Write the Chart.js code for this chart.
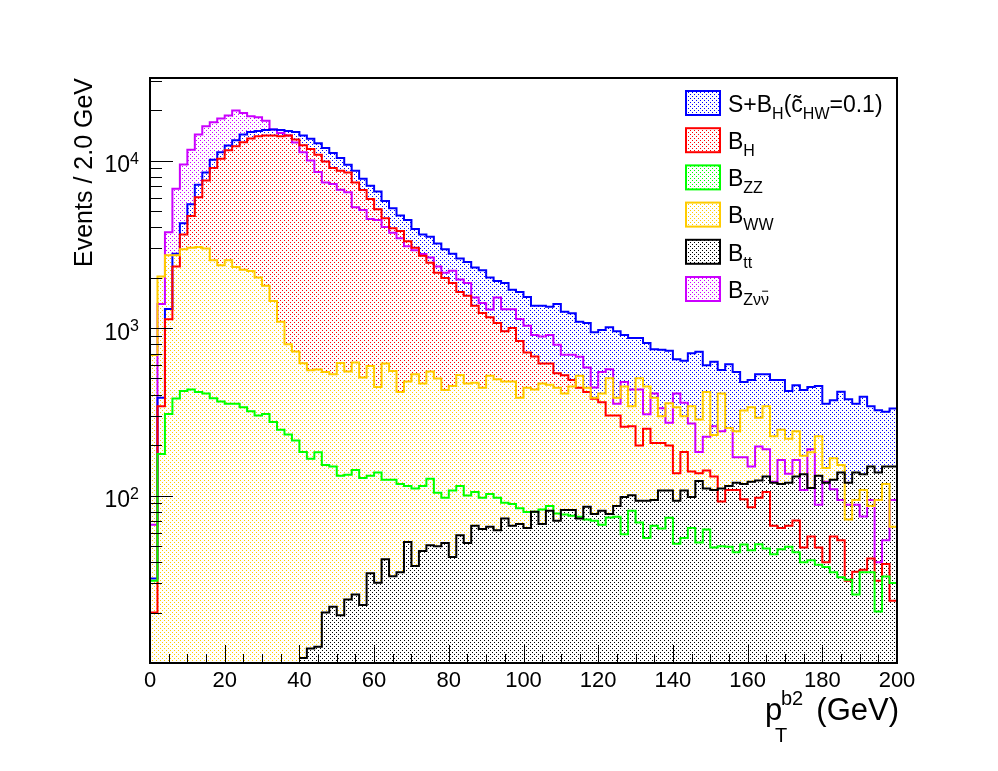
<!DOCTYPE html>
<html>
<head>
<meta charset="utf-8">
<script src="https://cdn.jsdelivr.net/npm/chart.js@4.4.0/dist/chart.umd.min.js"></script>
<style>
  html, body { margin: 0; padding: 0; background: #fff; }
  #wrap { width: 998px; height: 771px; }
</style>
</head>
<body>
<div id="wrap"><canvas id="myChart" width="998" height="771"></canvas></div>
<script>
// histogram binning: 100 bins of 2 GeV
const binWidth = 2.0;
const xRange = [0, 200];
const yRange = [10, 31100];
const xTickValues = [0, 20, 40, 60, 80, 100, 120, 140, 160, 180, 200];
const xTickLabels = ['0', '20', '40', '60', '80', '100', '120', '140', '160', '180', '200'];
const yTickPowers = [2, 3, 4];

// S+B_H (c_HW = 0.1)
const sbH = [
  32, 384, 1300, 2780, 4220, 5480, 7160, 8490, 10100, 11200,
  12300, 13200, 14300, 14800, 15000, 15200, 15300, 15200, 15000, 14800,
  14100, 13500, 12700, 11900, 11100, 10350, 9440, 8690, 7780, 7060,
  6530, 5740, 5190, 4690, 4410, 3900, 3620, 3510, 3200, 2950,
  2780, 2600, 2480, 2300, 2210, 2000, 1910, 1860, 1690, 1640,
  1530, 1360, 1360, 1340, 1390, 1250, 1225, 1090, 1070, 942,
  973, 1010, 955, 908, 871, 871, 813, 748, 741, 731,
  652, 637, 708, 721, 600, 628, 562, 608, 547, 476,
  490, 530, 530, 490, 490, 421, 455, 427, 444, 451,
  353, 371, 417, 375, 353, 389, 341, 323, 316, 331
];
// B_H
const bH = [
  20, 341, 1130, 2330, 3620, 4660, 6040, 7600, 9020, 10260,
  11500, 12170, 12850, 13520, 13970, 14100, 14100, 13970, 14100, 13330,
  12330, 11720, 10840, 9880, 9020, 8700, 8490, 7400, 6680, 5900,
  5120, 4520, 3940, 3800, 3300, 3010, 2700, 2450, 2140, 1990,
  1860, 1640, 1560, 1360, 1230, 1160, 1070, 955, 1000, 836,
  714, 676, 614, 614, 537, 522, 490, 440, 415, 378,
  361, 300, 300, 257, 259, 199, 250, 206, 206, 199,
  136, 182, 139, 136, 141, 130, 92, 108, 108, 95,
  85, 97, 105, 66, 64, 66, 71, 49, 57, 49,
  40, 57, 54, 31, 35, 36, 42, 31, 39, 23.5
];
// B_ZZ
const bZZ = [
  31, 177, 307, 380, 421, 430, 415, 407, 381, 364,
  353, 353, 337, 319, 300, 307, 275, 247, 231, 213,
  182, 166, 181, 152, 149, 131, 133, 142, 127, 131,
  137, 124, 124, 117, 114, 110, 114, 126, 104, 97,
  107, 114, 100, 105, 97, 102, 97, 90.6, 89, 84,
  79.6, 80, 82.6, 86.5, 78, 77, 75.6, 74.6, 72, 70.6,
  67, 74, 74.6, 58.7, 81, 69, 55.8, 66, 63.5, 73.6,
  51.6, 55.8, 64, 52.4, 62.7, 48.9, 49.8, 49.5, 45.9, 51,
  47.1, 51.2, 48.3, 44.6, 47.7, 49.5, 45.9, 40, 41, 38.6,
  37.4, 34.8, 32.5, 31.4, 25.6, 34.8, 34.8, 20.3, 32.9, 30
];
// B_WW
const bWW = [
  689, 2030, 2720, 2720, 2950, 3010, 3050, 2980, 2540, 2370,
  2540, 2310, 2230, 2190, 2000, 1790, 1450, 1090, 801, 724,
  616, 560, 565, 547, 530, 619, 550, 622, 506, 594,
  444, 614, 554, 415, 479, 530, 466, 550, 499, 427,
  451, 525, 466, 472, 440, 518, 494, 479, 479, 384,
  440, 430, 466, 459, 440, 407, 447, 518, 440, 384,
  407, 502, 384, 447, 341, 502, 447, 384, 297, 355,
  337, 297, 341, 284, 415, 230, 407, 253, 242, 322,
  337, 291, 341, 226, 247, 218, 242, 173, 181, 226,
  146, 167, 152, 72, 94, 108, 86.5, 94, 117, 65
];
// B_tt (empty below 40 GeV)
const bTT = [
  0, 0, 0, 0, 0, 0, 0, 0, 0, 0,
  0, 0, 0, 0, 0, 0, 0, 0, 0, 0,
  10.7, 12.2, 12.5, 20, 21.7, 19.3, 23.9, 25.6, 22.2, 34.4,
  30.1, 41.6, 33, 34.8, 52.8, 37.9, 46.7, 50.5, 49.8, 52.1,
  43, 58, 52.1, 66, 63.2, 65, 62, 73, 66, 67.5,
  64, 80, 67.5, 81, 70.6, 82, 82, 73, 85.6, 77.5,
  81, 77.5, 86.5, 98, 100.5, 93, 93, 94, 107, 107,
  93, 107, 98, 122, 110, 108, 110, 114, 119, 117,
  121, 123, 130, 119, 117, 119, 130, 134, 111, 131,
  119, 124, 137, 119, 137, 134, 149, 137, 149, 149
];
// B_Z(nu nubar)
const bZvv = [
  67, 1390, 3730, 6780, 9480, 11600, 14300, 16000, 16900, 17800,
  18600, 19900, 19200, 18400, 18100, 17300, 15300, 14600, 14100, 12800,
  11200, 10000, 8530, 7400, 7230, 6700, 6470, 5260, 5070, 4470,
  4410, 4010, 3710, 3430, 3080, 2910, 2770, 2640, 2330, 2140,
  2200, 1950, 1860, 1520, 1410, 1290, 1520, 1295, 1295, 1132,
  1032, 908, 891, 908, 794, 692, 692, 673, 581, 441,
  547, 567, 353, 476, 430, 430, 306, 407, 332, 272,
  407, 358, 269, 182, 224, 259, 242, 253, 169, 169,
  149, 196, 189, 121, 163, 135, 163, 108, 189, 88,
  121, 109, 94, 88, 88, 75, 94, 40, 54, 94
];

const seriesValues = [sbH, bH, bZZ, bWW, bTT, bZvv];
const seriesNames = ['S+B_H', 'B_H', 'B_ZZ', 'B_WW', 'B_tt', 'B_Zvv'];
const seriesColors = ['#0000ff', '#ff0000', '#00ff00', '#ffcc00', '#000000', '#cc00ff'];
// drawing order, lower number is drawn on top
const seriesOrder = [4, 3, 2, 1, 0, 5];

// legend text pieces: [text, style]
const legendLabels = [
  [['S+B'], ['H', 'sub'], ['(c\u0303'], ['HW', 'sub'], ['=0.1)']],
  [['B'], ['H', 'sub']],
  [['B'], ['ZZ', 'sub']],
  [['B'], ['WW', 'sub']],
  [['B'], ['tt', 'sub']],
  [['B'], ['Z\u03bd', 'sub'], ['\u03bd', 'subbar']]
];

const FONT = '"Liberation Sans", Arial, Helvetica, sans-serif';

// ROOT style dotted fill: one pixel every 4 along a row, rows shifted by 2
function dotPattern(color) {
  const c = document.createElement('canvas');
  c.width = 4;
  c.height = 4;
  const g = c.getContext('2d');
  g.fillStyle = color;
  g.fillRect(0, 0, 1, 1);
  g.fillRect(2, 2, 1, 1);
  return g.createPattern(c, 'repeat');
}

function histPoints(values) {
  const pts = values.map((v, i) => ({ x: xRange[0] + i * binWidth, y: v }));
  pts.push({ x: xRange[1], y: values[values.length - 1] });
  return pts;
}

function drawRich(ctx, parts, x, base) {
  parts.forEach(([t, style]) => {
    const small = style === 'sub' || style === 'subbar';
    ctx.font = (small ? '16px ' : '23px ') + FONT;
    const yy = base + (small ? 7 : 0);
    ctx.fillText(t, x, yy);
    const w = ctx.measureText(t).width;
    if (style === 'subbar') {
      ctx.beginPath();
      ctx.lineWidth = 1;
      ctx.moveTo(x + 1, yy - 13.5);
      ctx.lineTo(x + w - 1, yy - 13.5);
      ctx.stroke();
    }
    x += w;
  });
}

const rootFrame = {
  id: 'rootFrame',
  afterDatasetsDraw(chart) {
    const { ctx, chartArea: a } = chart;
    const xs = chart.scales.x;
    const ys = chart.scales.y;
    ctx.save();
    ctx.strokeStyle = '#000';
    ctx.fillStyle = '#000';
    ctx.lineWidth = 1;

    // ticks inside the frame
    ctx.beginPath();
    for (let v = xRange[0]; v <= xRange[1]; v += 5) {
      const px = Math.round(xs.getPixelForValue(v)) + 0.5;
      ctx.moveTo(px, a.bottom);
      ctx.lineTo(px, a.bottom - (v % 20 === 0 ? 18 : 9));
    }
    for (let p = 1; p <= 4; p++) {
      for (let k = 1; k <= 9; k++) {
        const v = k * Math.pow(10, p);
        if (v <= yRange[0] || v > yRange[1]) continue;
        const py = Math.round(ys.getPixelForValue(v)) + 0.5;
        ctx.moveTo(a.left, py);
        ctx.lineTo(a.left + (k === 1 ? 23 : 12), py);
      }
    }
    ctx.stroke();

    ctx.lineWidth = 2;
    ctx.strokeRect(a.left, a.top, a.right - a.left, a.bottom - a.top);

    // x tick labels
    ctx.font = '22px ' + FONT;
    ctx.textAlign = 'center';
    ctx.textBaseline = 'alphabetic';
    xTickValues.forEach((v, i) => {
      ctx.fillText(xTickLabels[i], xs.getPixelForValue(v), a.bottom + 24);
    });

    // y tick labels 10^n
    yTickPowers.forEach(p => {
      const py = ys.getPixelForValue(Math.pow(10, p));
      ctx.font = '23px ' + FONT;
      ctx.textAlign = 'right';
      ctx.fillText('10', 130, py + 11.5);
      ctx.font = '16px ' + FONT;
      ctx.textAlign = 'left';
      ctx.fillText(String(p), 130, py + 3);
    });

    // y title
    ctx.save();
    ctx.translate(92, a.top);
    ctx.rotate(-Math.PI / 2);
    ctx.font = '25px ' + FONT;
    ctx.textAlign = 'right';
    ctx.fillText('Events / 2.0 GeV', 0, 0);
    ctx.restore();

    // x title  p_T^{b2} (GeV)
    ctx.textAlign = 'left';
    ctx.font = '31px ' + FONT;
    ctx.fillText('p', 765, 720);
    ctx.font = '20px ' + FONT;
    ctx.fillText('T', 775, 742);
    ctx.fillText('b2', 781, 705);
    ctx.font = '31px ' + FONT;
    ctx.textAlign = 'right';
    ctx.fillText('(GeV)', 899, 720);

    // legend
    ctx.textAlign = 'left';
    legendLabels.forEach((parts, k) => {
      const top = 90 + 37.2 * k;
      ctx.fillStyle = dotPattern(seriesColors[k]);
      ctx.fillRect(686, top + 1, 34, 24);
      ctx.strokeStyle = seriesColors[k];
      ctx.lineWidth = 2;
      ctx.strokeRect(686, top + 1, 34, 24);
      ctx.fillStyle = '#000';
      ctx.strokeStyle = '#000';
      drawRich(ctx, parts, 728, top + 21.7);
    });
    ctx.restore();
  }
};

const datasets = seriesValues.map((vals, k) => ({
  label: seriesNames[k],
  data: histPoints(vals),
  borderColor: seriesColors[k],
  backgroundColor: dotPattern(seriesColors[k]),
  borderWidth: 2,
  stepped: true,
  pointRadius: 0,
  fill: 'start',
  order: seriesOrder[k]
}));

const ctx = document.getElementById('myChart').getContext('2d');
const myChart = new Chart(ctx, {
  type: 'line',
  data: { datasets: datasets },
  options: {
    responsive: false,
    devicePixelRatio: 1,
    animation: false,
    events: [],
    layout: { padding: { left: 150, right: 101, top: 78, bottom: 108 } },
    scales: {
      x: { type: 'linear', min: xRange[0], max: xRange[1], display: false },
      y: { type: 'logarithmic', min: yRange[0], max: yRange[1], display: false }
    },
    plugins: {
      filler: { drawTime: 'beforeDatasetsDraw' },
      legend: { display: false },
      tooltip: { enabled: false }
    }
  },
  plugins: [rootFrame]
});
</script>
</body>
</html>
